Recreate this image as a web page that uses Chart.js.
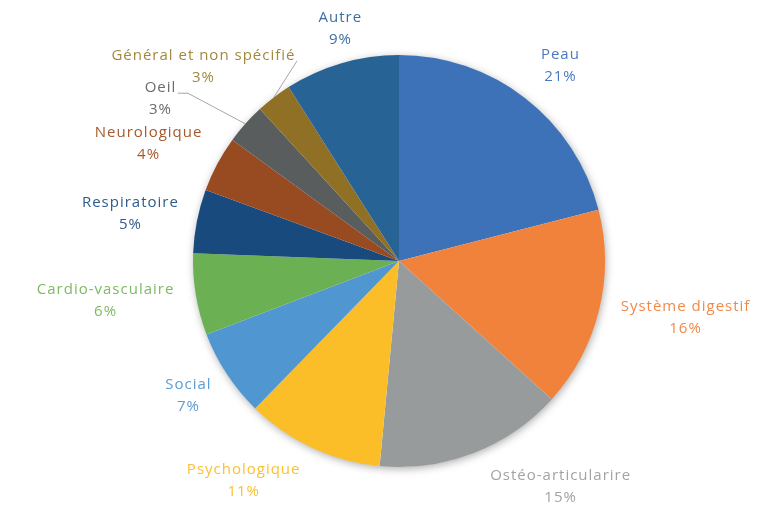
<!DOCTYPE html>
<html><head><meta charset="utf-8">
<script src="https://cdn.jsdelivr.net/npm/chart.js@4.4.0/dist/chart.umd.min.js"></script>
<style>html,body{margin:0;padding:0;background:#fff}#wrap{width:759px;height:506px;position:relative}</style>
</head><body><div id="wrap"><canvas id="c"></canvas></div>
<script>
const categories = ['Peau','Système digestif','Ostéo-articularire','Psychologique','Social','Cardio-vasculaire','Respiratoire','Neurologique','Oeil','Général et non spécifié','Autre'];
const values = [21, 15.7, 14.8, 10.8, 6.9, 6.4, 5.0, 4.4, 3.2, 2.8, 9.0];
const percentLabels = ['21%','16%','15%','11%','7%','6%','5%','4%','3%','3%','9%'];

const sliceColors = ['#3D72B9','#F0823C','#989B9C','#FBBD28','#5096D0','#6CB054','#184A7D','#984A20','#595D5E','#8F7025','#276394'];
const labelColors = ['#4A78C2','#F08A4B','#A3A3A3','#FBC033','#5B9BD5','#7DBB62','#2F5B8C','#A5592C','#6A6A6A','#A2883C','#3B6FA3'];
// label placement: angle (deg, clockwise from top) and distance from centre as a multiple of the radius
const labelAngles = [39.5, 101.3, 144.5, 215.3, 237.4, 262.25, 279.9, 295, 304.1, 314.7, 345.7];
const labelDist = [1.228, 1.416, 1.347, 1.309, 1.216, 1.44, 1.326, 1.344, 1.401, 1.339, 1.162];
const leaderElbow = [null, null, null, null, null, null, null, null, 10, 0, null];

const FONT = '15px "Open Sans", sans-serif';

const shadowPlugin = {
  id: 'pieShadow',
  beforeDatasetsDraw(chart) {
    const arc = chart.getDatasetMeta(0).data[0];
    if (!arc) return;
    const ctx = chart.ctx;
    ctx.save();
    ctx.shadowColor = 'rgba(0,0,0,0.35)';
    ctx.shadowBlur = 9;
    ctx.shadowOffsetX = 1;
    ctx.shadowOffsetY = 2;
    ctx.fillStyle = '#ffffff';
    ctx.beginPath();
    ctx.arc(arc.x, arc.y, arc.outerRadius - 0.5, 0, Math.PI * 2);
    ctx.fill();
    ctx.restore();
  }
};

const labelPlugin = {
  id: 'outLabels',
  afterDatasetsDraw(chart) {
    const meta = chart.getDatasetMeta(0);
    const ctx = chart.ctx;
    const first = meta.data[0];
    const cx = first.x, cy = first.y, r = first.outerRadius;
    ctx.save();
    ctx.font = FONT;
    ctx.letterSpacing = '1px';
    ctx.textAlign = 'center';
    ctx.textBaseline = 'middle';
    meta.data.forEach((arc, i) => {
      const a = labelAngles[i] * Math.PI / 180;
      const lx = cx + Math.sin(a) * r * labelDist[i];
      const ly = cy - Math.cos(a) * r * labelDist[i];
      const y1 = ly - 11, y2 = ly + 11;
      ctx.fillStyle = labelColors[i];
      ctx.fillText(categories[i], lx + 0.5, y1);
      ctx.fillText(percentLabels[i], lx + 0.5, y2);
      if (leaderElbow[i] !== null) {
        const w = ctx.measureText(categories[i]).width;
        const sx = lx + w / 2 + 2, sy = y1 + 5;
        const mid = (arc.startAngle + arc.endAngle) / 2;
        const ex = cx + Math.cos(mid) * r, ey = cy + Math.sin(mid) * r;
        ctx.strokeStyle = '#A6A6A6';
        ctx.lineWidth = 1;
        ctx.beginPath();
        ctx.moveTo(sx, sy);
        if (leaderElbow[i] > 0) ctx.lineTo(sx + leaderElbow[i], sy);
        ctx.lineTo(ex, ey);
        ctx.stroke();
      }
    });
    ctx.restore();
  }
};

new Chart(document.getElementById('c'), {
  type: 'pie',
  data: {
    labels: categories,
    datasets: [{ data: values, backgroundColor: sliceColors, borderWidth: 0 }]
  },
  options: {
    responsive: true,
    maintainAspectRatio: false,
    animation: false,
    layout: { padding: { top: 55, bottom: 39, left: 100, right: 61 } },
    plugins: { legend: { display: false }, tooltip: { enabled: false } }
  },
  plugins: [shadowPlugin, labelPlugin]
});
</script>
</body></html>
